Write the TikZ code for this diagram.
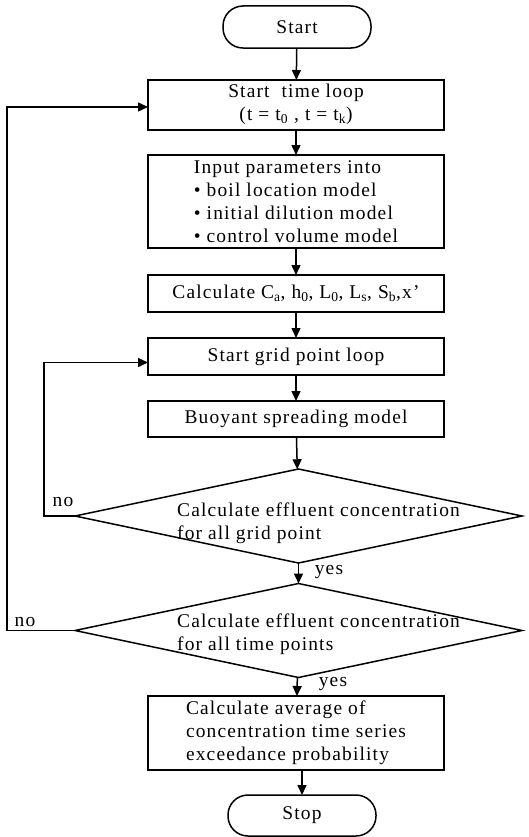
\documentclass[tikz,border=0pt]{standalone}
\usepackage{fontspec}
\setmainfont[LetterSpace=6]{Liberation Serif}
\usetikzlibrary{shapes.geometric,arrows.meta}

\tikzset{
  every node/.style={font=\fontsize{19.5}{23}\selectfont},
  procbox/.style={draw,line width=1.5bp,rectangle,minimum width=296bp,inner sep=0pt,outer sep=0pt},
  termbox/.style={draw,line width=1.5bp,rectangle,rounded corners=20bp,minimum width=148bp,minimum height=42bp,outer sep=0pt},
  decbox/.style={draw,line width=1.5bp,diamond,minimum width=447bp,minimum height=94bp,inner sep=0pt,outer sep=0pt},
  flow/.style={-{Triangle[length=10bp,width=9bp]},line width=1.5bp},
}

\begin{document}
\begin{tikzpicture}[x=1bp,y=-1bp]
\useasboundingbox (0,0) rectangle (529,837);

\node[termbox] (start) at (297,27) {Start};
\node[procbox,minimum height=50bp,align=center,text depth=6bp] (tloop) at (296,105)
  {Start\ \ time loop\\(t = t\textsubscript{0} , t = t\textsubscript{k})};
\node[procbox,minimum height=93bp,align=left] (input) at (296,201.5)
  {Input parameters into\\\textbullet\ boil location model\\\textbullet\ initial dilution model\\\textbullet\ control volume model};
\node[procbox,minimum height=37bp] (calc) at (296,293.5)
  {Calculate C\textsubscript{a}, h\textsubscript{0}, L\textsubscript{0}, L\textsubscript{s}, S\textsubscript{b},x'};
\node[procbox,minimum height=37bp] (gloop) at (296,356.5) {Start grid point loop};
\node[procbox,minimum height=36bp] (buoy) at (296,419) {Buoyant spreading model};
\node[decbox,label={[xshift=20bp,yshift=-7bp,align=left]center:Calculate effluent concentration\\for all grid point}] (dec1) at (298.5,516) {};
\node[decbox,label={[xshift=20bp,yshift=-4bp,align=left]center:Calculate effluent concentration\\for all time points}] (dec2) at (298.5,630.5) {};
\node[procbox,minimum height=74bp,align=left] (avg) at (296,733)
  {Calculate average of\\concentration time series\\exceedance probability};
\node[termbox,minimum height=41bp] (stop) at (302,815.5) {Stop};

\node (yes1) at (329,572) {yes};
\node (yes2) at (333,684) {yes};
\node (no1) at (63,502) {no};
\node (no2) at (25,622) {no};

\draw[flow] (start) -- (tloop);
\draw[flow] (tloop) -- (input);
\draw[flow] (input) -- (calc);
\draw[flow] (calc) -- (gloop);
\draw[flow] (gloop) -- (buoy);
\draw[flow] (buoy) -- (dec1);
\draw[flow] (dec1) -- (dec2);
\draw[flow] (dec2) -- (avg);
\draw[flow] (avg.south -| stop.north) -- (stop);
\draw[flow] (dec1.west) -- ++(-31,0) |- ([yshift=-6bp]gloop.west);
\draw[flow] (dec2.west) -- ++(-68,0) |- ([yshift=-2bp]tloop.west);
\end{tikzpicture}
\end{document}
